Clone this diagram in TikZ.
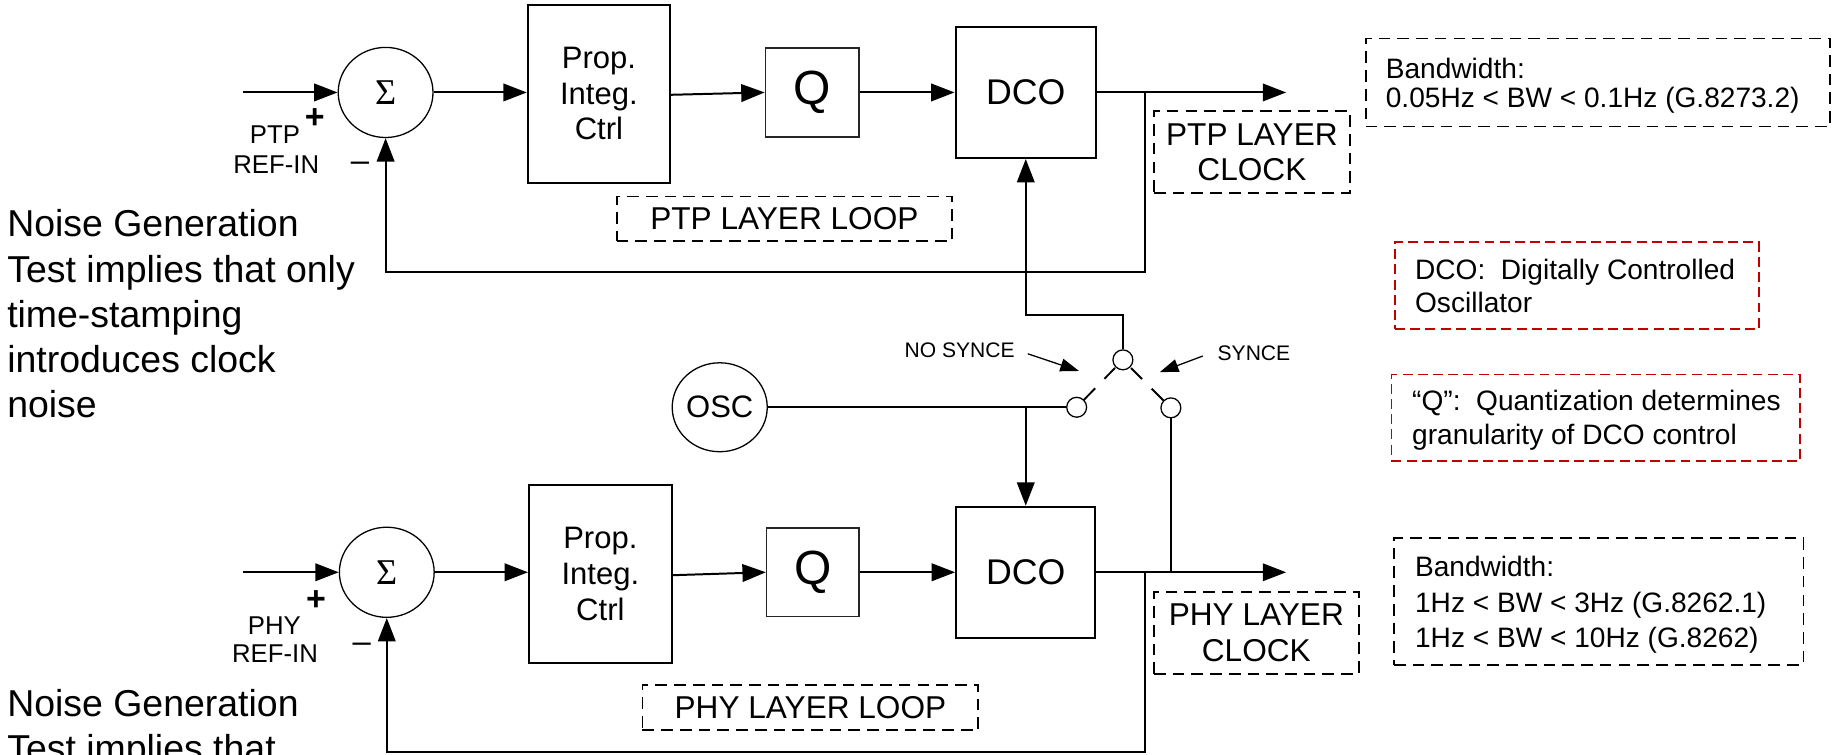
\documentclass[tikz,border=0pt]{standalone}
\usepackage{fontspec}
\setmainfont{Liberation Sans}
\newfontfamily\seriffont{Liberation Serif}
\usetikzlibrary{arrows.meta,shapes.geometric,calc}
\definecolor{dashred}{RGB}{192,0,0}
\newcommand{\fsz}[2]{\fontsize{#1}{#2}\selectfont}
\begin{document}
\begin{tikzpicture}[x=1pt,y=-1pt,
  wire/.style={line width=1.7pt},
  arr/.style={wire,-{Triangle[length=20pt,width=15pt]}},
  sarr/.style={line width=1.1pt,-{Triangle[length=16pt,width=11pt]}},
  blockbox/.style={draw,line width=1.7pt,inner sep=0pt,align=center},
  qbox/.style={draw=black!85,line width=1.2pt,inner sep=0pt},
  sumnode/.style={draw,ellipse,line width=1.1pt,inner sep=0pt,minimum width=81pt,minimum height=77pt,font=\seriffont\fsz{31}{33}},
  pin/.style={draw,circle,line width=1.1pt,minimum size=17pt,inner sep=0pt,fill=white},
  dbox/.style={draw,dash pattern=on 10pt off 6pt,line width=1.5pt,inner sep=0pt,align=center},
  rbox/.style={draw=dashred,dash pattern=on 8.5pt off 4.5pt,line width=1.5pt,inner sep=0pt},
  lbl/.style={inner sep=0pt,anchor=base},
  note/.style={inner sep=0pt,anchor=base west},
]
\useasboundingbox (0,0) rectangle (1568,645);
\clip (0,0) rectangle (1568,645);

% ---------- top row (PTP layer)
\node[sumnode] (s1) at (329.5,79) {Σ};
\node[blockbox,minimum width=121.5pt,minimum height=152pt,font=\fsz{26.5}{30.5}] (p1) at (511.75,80) {Prop.\\Integ.\\Ctrl};
\node[qbox,minimum width=80pt,minimum height=76pt,font=\fsz{41}{44}] (q1) at (694,79) {Q};
\node[blockbox,minimum width=120pt,minimum height=112pt,font=\fsz{30.5}{34}] (d1) at (876.5,79) {DCO};
\coordinate (in1) at (208,79);
\coordinate (j1) at (978,79);
\coordinate (out1) at (1099,79);
\coordinate (fb1) at (978,232.5);
\draw[arr] (in1) -- (s1.west);
\draw[arr] (s1.east) -- (p1.west |- s1.east);
\draw[arr] ([yshift=-1pt]p1.east) -- (q1.west);
\draw[arr] (q1.east) -- (d1.west);
\draw[arr] (d1.east) -- (out1);
\draw[arr] (j1) -- (fb1) -| (s1.south);

% ---------- bottom row (PHY layer)
\node[sumnode] (s2) at (330.5,489) {Σ};
\node[blockbox,minimum width=122pt,minimum height=152pt,font=\fsz{26.5}{30.5}] (p2) at (513,490.5) {Prop.\\Integ.\\Ctrl};
\node[qbox,minimum width=79pt,minimum height=76pt,font=\fsz{41}{44}] (q2) at (694.5,489) {Q};
\node[blockbox,minimum width=119pt,minimum height=112pt,font=\fsz{30.5}{34}] (d2) at (876.5,489) {DCO};
\coordinate (in2) at (208,489);
\coordinate (j2) at (978,489);
\coordinate (out2) at (1099,489);
\coordinate (fb2) at (978,642.5);
\draw[arr] (in2) -- (s2.west);
\draw[arr] (s2.east) -- (p2.west |- s2.east);
\draw[arr] ([yshift=-1pt]p2.east) -- (q2.west);
\draw[arr] (q2.east) -- (d2.west);
\draw[arr] (d2.east) -- (out2);
\draw[arr] (j2) -- (fb2) -| (s2.south);

% ---------- oscillator and switch
\node[draw,ellipse,line width=1.1pt,inner sep=0pt,minimum width=79pt,minimum height=76pt,font=\fsz{26.5}{30}] (osc) at (615,348) {OSC};
\coordinate (c1) at (959.5,269.5);
\coordinate (j3) at (876.5,348);
\coordinate (j4) at (1000.5,489);
\node[pin] (swT) at (959.5,307.5) {};
\node[pin] (swL) at (920,348) {};
\node[pin] (swR) at (1000.5,348.5) {};
\draw[arr] (swT.north) -- (c1) -| (d1.south);
\draw[wire] (osc.east) -- (swL.west);
\draw[arr] (j3) -- (d2.north);
\draw[wire] (swR.south) -- (j4);
\draw[line width=1.6pt] ($(swT)!0.17!(swL)$) -- ($(swT)!0.40!(swL)$)
                         ($(swT)!0.60!(swL)$) -- ($(swT)!0.85!(swL)$);
\draw[line width=1.6pt] ($(swT)!0.17!(swR)$) -- ($(swT)!0.40!(swR)$)
                         ($(swT)!0.60!(swR)$) -- ($(swT)!0.85!(swR)$);

\node[lbl,font=\fsz{18}{20}] (nosync) at (820,305.5) {NO SYNCE};
\coordinate (ns) at (922,317);
\draw[sarr] ([xshift=11pt,yshift=-3pt]nosync.east) -- (ns);
\node[lbl,font=\fsz{18}{20}] (synce) at (1071.5,308.4) {SYNCE};
\coordinate (sy) at (991,318);
\draw[sarr] ([xshift=-12.5pt,yshift=-2pt]synce.west) -- (sy);

% ---------- signs and input labels
\node[lbl,font=\bfseries\fsz{29}{30}] (plus1) at (269,110) {+};
\node[lbl,font=\fsz{22}{24}] (ptp) at (235,122.4) {PTP};
\node[lbl,font=\fsz{22}{24}] (ref1) at (236,147.9) {REF-IN};
\node[lbl,font=\fsz{28}{30}] (minus1) at (307.6,146.2) {–};
\node[lbl,font=\bfseries\fsz{29}{30}] (plus2) at (270,522) {+};
\node[lbl,font=\fsz{22}{24}] (phy) at (234.5,541.9) {PHY};
\node[lbl,font=\fsz{22}{24}] (ref2) at (235,565.9) {REF-IN};
\node[lbl,font=\fsz{28}{30}] (minus2) at (309,557.7) {–};

% ---------- dashed labels
\node[dbox,minimum width=286.5pt,minimum height=38pt,font=\fsz{27}{30}] (loop1) at (670.25,187) {PTP LAYER LOOP};
\node[dbox,minimum width=287pt,minimum height=39pt,font=\fsz{27}{30}] (loop2) at (692.5,604.5) {PHY LAYER LOOP};
\node[dbox,minimum width=167.5pt,minimum height=70pt,font=\fsz{27}{30}] (clk1) at (1069.75,130) {PTP LAYER\\CLOCK};
\node[dbox,minimum width=175pt,minimum height=70pt,font=\fsz{27}{31}] (clk2) at (1073.5,541) {PHY LAYER\\CLOCK};

% ---------- notes on the right
\node[dbox,minimum width=397pt,minimum height=75pt] (bw1) at (1365.5,70.5) {};
\node[note,font=\fsz{24}{26}] (bw1a) at (1184,67) {Bandwidth:};
\node[note,font=\fsz{24}{26}] (bw1b) at (1184,92) {0.05Hz < BW < 0.1Hz (G.8273.2)};

\node[rbox,minimum width=311pt,minimum height=74pt] (rd) at (1347.5,244) {};
\node[note,font=\fsz{24}{26}] (rda) at (1209,239) {DCO:\ \ Digitally Controlled};
\node[note,font=\fsz{24}{26}] (rdb) at (1209,267) {Oscillator};

\node[rbox,minimum width=349pt,minimum height=74pt] (rq) at (1363.5,357) {};
\node[note,font=\fsz{24}{26}] (rqa) at (1206.5,351) {“Q”:\ \ Quantization determines};
\node[note,font=\fsz{24}{26}] (rqb) at (1206.5,380) {granularity of DCO control};

\node[dbox,minimum width=350pt,minimum height=108pt] (bw2) at (1366,514) {};
\node[note,font=\fsz{24}{26}] (bw2a) at (1209,493) {Bandwidth:};
\node[note,font=\fsz{24}{26}] (bw2b) at (1209,523) {1Hz < BW < 3Hz (G.8262.1)};
\node[note,font=\fsz{24}{26}] (bw2c) at (1209,553) {1Hz < BW < 10Hz (G.8262)};

% ---------- notes on the left
\node[note,font=\fsz{32}{34}] (n1) at (6,202.5) {Noise Generation};
\node[note,font=\fsz{32}{34}] (n2) at (6,241) {Test implies that only};
\node[note,font=\fsz{32}{34}] (n3) at (6,279.5) {time-stamping};
\node[note,font=\fsz{32}{34}] (n4) at (6,318) {introduces clock};
\node[note,font=\fsz{32}{34}] (n5) at (6,356.5) {noise};
\node[note,font=\fsz{32}{34}] (m1) at (6,612.5) {Noise Generation};
\node[note,font=\fsz{32}{34}] (m2) at (6,651) {Test implies that};
\end{tikzpicture}
\end{document}
